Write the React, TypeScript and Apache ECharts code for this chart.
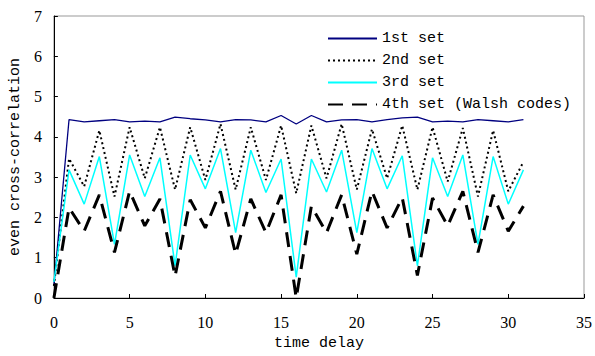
import React, { useEffect, useRef } from "react";
import * as echarts from "echarts";

const delays = [0,1,2,3,4,5,6,7,8,9,10,11,12,13,14,15,16,17,18,19,20,21,22,23,24,25,26,27,28,29,30,31];
const set1 = [0.3,4.43,4.37,4.40,4.43,4.37,4.39,4.37,4.49,4.45,4.42,4.37,4.43,4.42,4.37,4.53,4.32,4.53,4.37,4.42,4.43,4.37,4.43,4.47,4.49,4.37,4.39,4.37,4.43,4.40,4.37,4.43];
const set2 = [0.3,3.46,2.77,4.16,2.52,4.24,2.97,4.24,2.69,4.24,2.93,4.32,2.69,4.24,2.93,4.28,2.60,4.28,2.97,4.32,2.69,4.19,2.97,4.28,2.69,4.24,2.89,4.22,2.52,4.16,2.65,3.38];
const set3 = [0.4,3.18,2.33,3.51,1.33,3.55,2.52,3.48,0.80,3.55,2.71,3.71,1.62,3.67,2.62,3.45,0.52,3.45,2.63,3.67,1.62,3.71,2.71,3.53,0.80,3.48,2.52,3.55,1.33,3.51,2.33,3.18];
const set4 = [0,2.24,1.66,2.56,1.13,2.65,1.79,2.46,0.54,2.44,1.74,2.65,1.09,2.46,1.62,2.56,0,2.28,1.62,2.56,1.09,2.65,1.74,2.49,0.56,2.48,1.79,2.65,1.13,2.56,1.66,2.28];
const seriesNames = ["1st set", "2nd set", "3rd set", "4th set (Walsh codes)"];

const pairs = (ys: number[]) => delays.map((d, i) => [d, ys[i]]);

export default function App() {
  const ref = useRef<HTMLDivElement>(null);
  useEffect(() => {
    document.body.style.margin = "0";
    const chart = echarts.init(ref.current!, null, { renderer: "svg" });
    const mono = "Liberation Mono";
    const serif = "Liberation Serif";
    chart.setOption({
      animation: false,
      backgroundColor: "#ffffff",
      grid: {
        left: 53, right: 7, top: 16, bottom: 55,
        show: true, borderColor: "#999999", borderWidth: 1,
      },
      legend: {
        orient: "vertical",
        left: 327,
        top: 31,
        padding: 0,
        itemWidth: 49,
        itemHeight: 14,
        itemGap: 7,
        itemStyle: { opacity: 0 },
        textStyle: { fontFamily: mono, fontSize: 15, color: "#000" },
        data: seriesNames,
      },
      xAxis: {
        type: "value",
        min: 0, max: 35, interval: 5,
        name: "time delay",
        nameLocation: "middle",
        nameGap: 38,
        nameTextStyle: { fontFamily: mono, fontSize: 15, color: "#000" },
        axisLine: { show: true, lineStyle: { color: "#000", width: 1 } },
        axisTick: { show: true, inside: true, length: 4, lineStyle: { color: "#000" } },
        axisLabel: { fontFamily: serif, fontSize: 16, color: "#000", margin: 16 },
        splitLine: { show: false },
      },
      yAxis: {
        type: "value",
        min: 0, max: 7, interval: 1,
        name: "even cross-correlation",
        nameLocation: "middle",
        nameGap: 30,
        nameTextStyle: { fontFamily: mono, fontSize: 15, color: "#000" },
        axisLine: { show: true, lineStyle: { color: "#000", width: 1 } },
        axisTick: { show: true, inside: true, length: 4, lineStyle: { color: "#000" } },
        axisLabel: { fontFamily: serif, fontSize: 16, color: "#000", margin: 12 },
        splitLine: { show: false },
      },
      series: [
        {
          name: seriesNames[0], type: "line", data: pairs(set1), symbol: "none",
          lineStyle: { color: "#000080", width: 1.3 }, itemStyle: { color: "#000080" },
        },
        {
          name: seriesNames[1], type: "line", data: pairs(set2), symbol: "none",
          lineStyle: { color: "#000000", width: 2, type: [2, 3] }, itemStyle: { color: "#000000" },
        },
        {
          name: seriesNames[2], type: "line", data: pairs(set3), symbol: "none",
          lineStyle: { color: "#00ffff", width: 1.5 }, itemStyle: { color: "#00ffff" },
        },
        {
          name: seriesNames[3], type: "line", data: pairs(set4), symbol: "none",
          lineStyle: { color: "#000000", width: 3, type: [15, 9] }, itemStyle: { color: "#000000" },
        },
      ],
    });
    return () => chart.dispose();
  }, []);
  return <div ref={ref} style={{ width: 595, height: 356 }} />;
}
